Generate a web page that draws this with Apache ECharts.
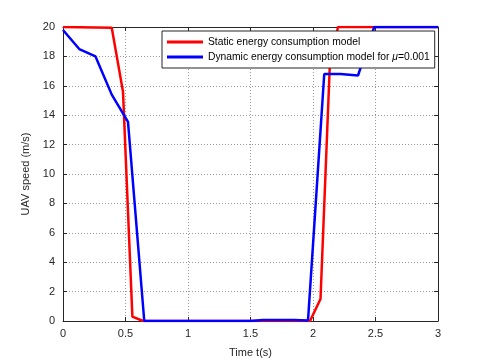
<!DOCTYPE html>
<html>
<head>
<meta charset="utf-8">
<script src="https://cdn.jsdelivr.net/npm/echarts@6/dist/echarts.min.js"></script>
<style>
  html, body { margin: 0; padding: 0; background: #fff; }
  #chart { width: 485px; height: 363px; }
</style>
</head>
<body>
<div id="chart"></div>
<script>
// Datos (tiempo en s, velocidad en m/s)
const staticTime = [0, 0.39, 0.48, 0.555, 0.64, 1.976, 2.06, 2.135, 2.2, 3];
const staticSpeed = [20, 19.95, 15.6, 0.3, 0, 0, 1.5, 17.5, 20, 20];

const dynamicTime = [0, 0.13, 0.26, 0.39, 0.52, 0.65, 1.5, 1.6, 1.85, 1.96, 2.09, 2.22, 2.36, 2.49, 3];
const dynamicSpeed = [19.8, 18.5, 18, 15.4, 13.55, 0, 0, 0.06, 0.06, 0.03, 16.8, 16.8, 16.7, 20, 20];

const seriesNames = ['Static energy consumption model', 'Dynamic energy consumption model for μ=0.001'];
const seriesColors = ['#ff0000', '#0000ff'];

const xTicks = { min: 0, max: 3, interval: 0.5 };
const yTicks = { min: 0, max: 20, interval: 2 };

const axisColor = '#262626';
const font = 'Liberation Sans, Arial, Helvetica, sans-serif';

const chart = echarts.init(document.getElementById('chart'), null, { renderer: 'canvas' });

function toPairs(xs, ys) {
    return xs.map((x, i) => [x, ys[i]]);
}

// Ejes con marco completo estilo MATLAB (ticks hacia dentro)
function frameAxis(extra) {
    return Object.assign({
        type: 'value',
        axisLine: { show: true, onZero: false, lineStyle: { color: axisColor, width: 1 } },
        axisTick: { show: true, inside: true, length: 4, lineStyle: { color: axisColor } },
        axisLabel: { show: false },
        splitLine: { show: false }
    }, extra);
}

const option = {
    backgroundColor: '#fff',
    animation: false,
    grid: { left: 63, right: 47, top: 27, bottom: 40 },
    legend: {
        orient: 'vertical',
        left: 162,
        top: 31,
        z: 20,
        zlevel: 0,
        icon: 'rect',
        itemWidth: 36,
        itemHeight: 3,
        itemGap: 1,
        padding: [4, 5, 4, 5],
        backgroundColor: '#fff',
        borderColor: axisColor,
        borderWidth: 1,
        data: seriesNames,
        formatter: name => name.replace('μ', '{i|μ}'),
        textStyle: {
            fontFamily: font,
            fontSize: 10.3,
            lineHeight: 14,
            color: '#000',
            rich: { i: { fontStyle: 'italic', fontFamily: font, fontSize: 10.3, color: '#000' } }
        }
    },
    xAxis: [
        frameAxis({
            position: 'bottom',
            min: xTicks.min, max: xTicks.max, interval: xTicks.interval,
            name: 'Time t(s)',
            nameLocation: 'middle',
            nameGap: 26,
            nameTextStyle: { fontFamily: font, fontSize: 11, color: axisColor },
            axisLabel: { show: true, margin: 7, fontFamily: font, fontSize: 11, color: axisColor },
            splitLine: { show: true, lineStyle: { type: [1, 2], color: '#999', width: 1 } }
        }),
        frameAxis({ position: 'top', min: xTicks.min, max: xTicks.max, interval: xTicks.interval })
    ],
    yAxis: [
        frameAxis({
            position: 'left',
            min: yTicks.min, max: yTicks.max, interval: yTicks.interval,
            name: 'UAV speed (m/s)',
            nameLocation: 'middle',
            nameGap: 30,
            nameTextStyle: { fontFamily: font, fontSize: 11, color: axisColor },
            axisLabel: { show: true, margin: 8, fontFamily: font, fontSize: 11, color: axisColor },
            splitLine: { show: true, lineStyle: { type: [1, 2], color: '#999', width: 1 } }
        }),
        frameAxis({ position: 'right', min: yTicks.min, max: yTicks.max, interval: yTicks.interval })
    ],
    series: [
        {
            name: seriesNames[0],
            type: 'line',
            data: toPairs(staticTime, staticSpeed),
            symbol: 'none',
            color: seriesColors[0],
            lineStyle: { width: 2.5, color: seriesColors[0] },
            z: 3
        },
        {
            name: seriesNames[1],
            type: 'line',
            data: toPairs(dynamicTime, dynamicSpeed),
            symbol: 'none',
            color: seriesColors[1],
            lineStyle: { width: 2.5, color: seriesColors[1] },
            z: 4
        }
    ]
};

chart.setOption(option);
</script>
</body>
</html>
